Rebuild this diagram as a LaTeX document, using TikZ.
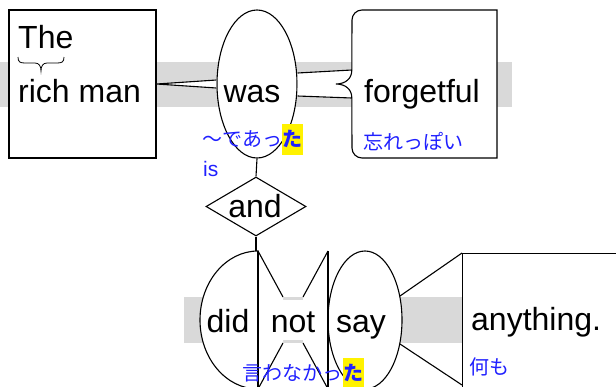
\documentclass[tikz,border=0pt]{standalone}
\usepackage{fontspec}
\setmainfont{Liberation Sans}
\newfontfamily\jp{Noto Sans CJK JP}
\usetikzlibrary{shapes.geometric,calc}
\definecolor{bandgray}{HTML}{D9D9D9}
\definecolor{gblue}{HTML}{2020FF}
\begin{document}
\begin{tikzpicture}[x=1pt,y=-1pt,
  shp/.style={draw=black, fill=white, line width=1.1pt},
  edge/.style={draw=black, line width=1.1pt},
  word/.style={font=\fontsize{32}{36}\selectfont, inner sep=0pt},
  gloss/.style={font=\jp\fontsize{20}{24}\selectfont, text=gblue, inner sep=0pt},
  hlbox/.style={font=\jp\bfseries\fontsize{20}{24}\selectfont, text=gblue, fill=yellow, inner xsep=0.5pt, inner ysep=0pt, minimum height=31pt}]
\useasboundingbox (0,0) rectangle (616,386);
\clip (0,0) rectangle (616,386);
% bands
\fill[bandgray] (0,62) rectangle (512,107);
\fill[bandgray] (184,297) rectangle (462,343);
% subject box
\node[shp, rectangle, minimum width=147pt, minimum height=148pt, inner sep=0pt] (subj) at (82.5,84) {};
\node[word, anchor=base west] (the) at (18,48) {The};
\node[word, anchor=base west] (rich) at (18,102) {rich man};
\draw[line width=0.8pt] (18,57) .. controls (18,62) and (20,63) .. (25,63) -- (35,63)
  .. controls (39,63) and (41,66) .. (41,71) .. controls (41,66) and (43,63) .. (47,63)
  -- (57,63) .. controls (62,63) and (64,62) .. (64,57);
% was
\node[shp, ellipse, minimum width=80pt, minimum height=148pt, inner sep=0pt] (was) at (257,84) {};
\coordinate (w1) at ($(was.west)+(0,-4)$);
\coordinate (w2) at ($(was.west)+(0,4)$);
\fill[white] (subj.east) -- (w1) -- (w2) -- cycle;
\draw[edge] (w1) -- (subj.east) -- (w2);
% forgetful box
\node[rectangle, minimum width=145pt, minimum height=148pt, inner sep=0pt] (fgt) at (424.5,84) {};
\coordinate (w3) at ($(was.east)+(0,-11)$);
\coordinate (w4) at ($(was.east)+(0,12)$);
\coordinate (f1) at ($(fgt.west)+(0,-14)$);
\coordinate (f2) at ($(fgt.west)+(0,14)$);
\fill[white] (w3) -- (f1) -- (f2) -- (w4) -- cycle;
\draw[edge] (w3) -- (f1);
\draw[edge] (w4) -- (f2);
\filldraw[shp] (497,10) -- (362,10) arc[start angle=270, end angle=180, radius=10]
  -- (f1) .. controls (352,78) and (346,84) .. (336,84) .. controls (346,84) and (352,90) .. (f2)
  -- (352,148) arc[start angle=180, end angle=90, radius=10] -- (497,158) -- cycle;
\node[word, anchor=base] (wast) at (252,102) {was};
\node[word, anchor=base west] (fgtt) at (364,102) {forgetful};
\node[gloss, anchor=west] (fj) at (363,142) {忘れっぽい};
\node[gloss, anchor=west] (wj) at (202,139) {～であっ};
\node[hlbox, anchor=west] (wjh) at (wj.east) {た};
\node[font=\fontsize{21}{24}\selectfont, text=gblue, inner sep=0pt, anchor=base west] (is) at (203,176) {is};
% and
\node[shp, diamond, minimum width=100pt, minimum height=59pt, inner sep=0pt] (and) at (256,206.5) {};
\draw[edge] (was.south) -- (and.north);
\node[word, anchor=base] (andt) at (255,217) {and};
\coordinate (didtop) at (258,251);
\draw[edge] (and.south) -- (and.south |- didtop);
% did
\filldraw[shp] (didtop) arc[start angle=270, end angle=90, x radius=58, y radius=69] -- cycle;
\node[word, anchor=base] (didt) at (228,332) {did};
% not
\fill[white] (258,251) -- (283,297) -- (283,343) -- (258,389) -- cycle;
\fill[white] (328,251) -- (303,297) -- (303,343) -- (328,389) -- cycle;
% say
\node[shp, ellipse, minimum width=74pt, minimum height=138pt, inner sep=0pt] (say) at (365,320) {};
\draw[edge] (258,251) -- (283,297);
\draw[edge] (258,389) -- (283,343);
\draw[edge] (328,251) -- (303,297);
\draw[edge] (328,389) -- (303,343);
\draw[edge] (258,251) -- (258,389);
\draw[edge] (328,251) -- (328,389);
\node[word, anchor=base, fill=white, text height=32pt, text depth=8pt, inner xsep=2pt] (nott) at (293,332) {not};
\node[word, anchor=base] (sayt) at (361,332) {say};
% anything
\node[shp, rectangle, anchor=north west, minimum width=170pt, minimum height=137pt, inner sep=0pt] (any) at (462,253) {};
\coordinate (anyb) at ($(any.north west)+(0,132)$);
\coordinate (s1) at ($(say.center)+(35,-24)$);
\coordinate (s2) at ($(say.center)+(35,24)$);
\draw[edge] (s1) -- (any.north west);
\draw[edge] (s2) -- (anyb);
\node[word, anchor=base west] (anyt) at (471,330) {anything.};
\node[gloss, anchor=west] (anyj) at (469,367) {何も};
\node[gloss, anchor=west] (dj) at (242,373) {言わなかっ};
\node[hlbox, anchor=west] (djh) at (dj.east) {た};
\end{tikzpicture}
\end{document}
